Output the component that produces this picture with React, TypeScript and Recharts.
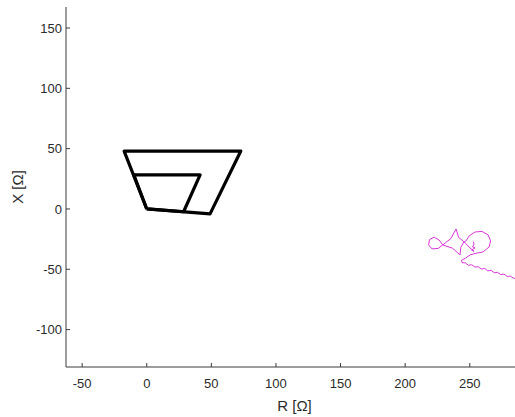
import React from 'react'
import { ScatterChart, Scatter, XAxis, YAxis, Label } from 'recharts'

// tick values
const xTicks = [-50, 0, 50, 100, 150, 200, 250]
const yTicks = [-100, -50, 0, 50, 100, 150]

// quadrilateral zones, [R, X] corners (closed)
const zone1: [number, number][] = [[0, 0], [28.5, -2.3], [41.3, 28.2], [-10, 28.2], [0, 0]]
const zone2: [number, number][] = [[0, 0], [49, -4.1], [72.8, 48], [-17.5, 48], [0, 0]]

// impedance trajectory, [R, X], from the load area inwards
const swing: [number, number][] = [
    [295, -60.2], [292, -59.4], [289, -59.1], [286.5, -57.1], [284, -57.5], [281.5, -55.6],
    [279, -56.0], [276.5, -54.0], [274, -54.4], [271.5, -52.5], [269, -52.9], [266.5, -50.9],
    [264, -51.3], [261.5, -49.3], [259, -49.8], [256.5, -47.8], [254, -48.2], [251.5, -46.2],
    [249, -46.7], [246.5, -44.7], [244, -44.5],
    [243.6, -42.6], [246.4, -41.0], [250.2, -38.1], [254.1, -36.9], [260.3, -35.6],
    [265.0, -31.5], [266.1, -26.5], [264.2, -21.5], [259.5, -18.6], [254.1, -19.1],
    [249.5, -22.4], [247.1, -26.5], [245.6, -27.3], [243.0, -31.8], [242.5, -38.1],
    [236.8, -32.6], [229.1, -29.8],
    [225.5, -32.7], [220.8, -33.1], [218.1, -29.8], [218.9, -25.3], [222.4, -23.4],
    [226.2, -25.7], [229.1, -29.8], [235.3, -24.6], [239.4, -16.6], [241.4, -23.6],
    [245.6, -27.3], [250.2, -32.3],
    [253.3, -35.2], [251.4, -34.0], [254.1, -32.3], [252.2, -31.5], [253.3, -29.0],
    [252.8, -27.1]
]

const toPoints = (pts: [number, number][]) => pts.map(([r, x]) => ({ r, x }))

const axisColor = '#3a3a3a'
const textColor = '#2b2b2b'
const font = '"Liberation Sans", Arial, sans-serif'

const XTick = (props: any) => {
    const { x, y, payload } = props
    return (
        <g>
            <line x1={x} x2={x} y1={y - 12} y2={y - 16} stroke={axisColor} />
            <text x={x} y={y} dy="0.71em" textAnchor="middle" fill={textColor} fontSize={13} fontFamily={font}>
                {payload.value}
            </text>
        </g>
    )
}

const YTick = (props: any) => {
    const { x, y, payload } = props
    return (
        <g>
            <line x1={x + 4} x2={x + 8} y1={y} y2={y} stroke={axisColor} />
            <text x={x} y={y} dy="0.35em" textAnchor="end" fill={textColor} fontSize={13} fontFamily={font}>
                {payload.value}
            </text>
        </g>
    )
}

const NoDot = () => <g />

export default function App() {
    return (
        <div style={{ position: 'absolute', left: 0, top: 0, width: 515, height: 417, overflow: 'hidden', background: '#fff' }}>
            <ScatterChart width={523} height={417} margin={{ top: 7, right: 0, bottom: 20, left: 26 }}>
                <XAxis
                    type="number"
                    dataKey="r"
                    domain={[-62.5, 291.2]}
                    allowDataOverflow
                    ticks={xTicks}
                    interval={0}
                    tickSize={0}
                    tickMargin={12}
                    tickLine={false}
                    tick={<XTick />}
                    axisLine={{ stroke: axisColor }}
                    height={30}
                >
                    <Label
                        content={(p: any) => {
                            const vb = p.viewBox
                            return (
                                <text x={vb.x + vb.width / 2} y={411} textAnchor="middle" fill={textColor} fontSize={15} fontFamily={font}>
                                    R [Ω]
                                </text>
                            )
                        }}
                    />
                </XAxis>
                <YAxis
                    type="number"
                    dataKey="x"
                    domain={[-131, 167.4]}
                    allowDataOverflow
                    ticks={yTicks}
                    interval={0}
                    tickSize={0}
                    tickMargin={4}
                    tickLine={false}
                    tick={<YTick />}
                    axisLine={{ stroke: axisColor }}
                    width={40}
                >
                    <Label
                        content={(p: any) => {
                            const vb = p.viewBox
                            const cy = vb.y + vb.height / 2
                            return (
                                <text transform={`translate(23, ${cy}) rotate(-90)`} textAnchor="middle" fill={textColor} fontSize={15} fontFamily={font}>
                                    X [Ω]
                                </text>
                            )
                        }}
                    />
                </YAxis>
                <Scatter
                    data={toPoints(zone2)}
                    line={{ stroke: '#000', strokeWidth: 3.2, strokeLinejoin: 'round' }}
                    lineType="joint"
                    shape={<NoDot />}
                    isAnimationActive={false}
                />
                <Scatter
                    data={toPoints(zone1)}
                    line={{ stroke: '#000', strokeWidth: 3.2, strokeLinejoin: 'round' }}
                    lineType="joint"
                    shape={<NoDot />}
                    isAnimationActive={false}
                />
                <Scatter
                    data={toPoints(swing)}
                    line={{ stroke: '#d936d9', strokeWidth: 1, strokeLinejoin: 'round' }}
                    lineType="joint"
                    shape={<NoDot />}
                    isAnimationActive={false}
                />
            </ScatterChart>
        </div>
    )
}
